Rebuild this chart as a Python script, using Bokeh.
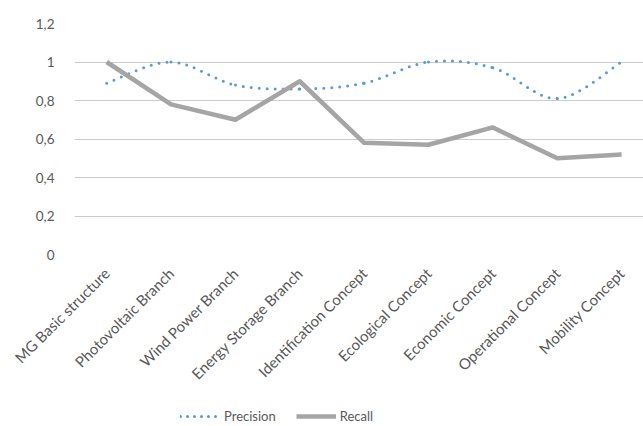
import math
from bokeh.plotting import figure
from bokeh.layouts import column
from bokeh.models import FixedTicker, Range1d, Legend, LegendItem, ColumnDataSource
from bokeh.embed import file_html
from bokeh.resources import INLINE

categories = ["MG Basic structure", "Photovoltaic Branch", "Wind Power Branch",
              "Energy Storage Branch", "Identification Concept", "Ecological Concept",
              "Economic Concept", "Operational Concept", "Mobility Concept"]
precision = [0.89, 1.0, 0.88, 0.86, 0.89, 1.0, 0.97, 0.81, 1.0]
recall = [1.0, 0.78, 0.70, 0.90, 0.58, 0.57, 0.66, 0.50, 0.52]
y_ticks = [0, 0.2, 0.4, 0.6, 0.8, 1.0, 1.2]
y_tick_labels = ["0", "0,2", "0,4", "0,6", "0,8", "1", "1,2"]

FONT = "Lato"
TXT = "#595959"
PREC_COLOR = "#5b9bd5"
REC_COLOR = "#a5a5a5"

p = figure(width=643, height=395, output_backend="svg", toolbar_location=None,
           x_range=Range1d(-0.5, 8.34), y_range=Range1d(0, 1.2),
           min_border_left=74, min_border_right=0, min_border_top=23,
           min_border_bottom=141)
p.outline_line_color = None
p.background_fill_color = "white"
p.border_fill_color = "white"

xs = list(range(len(categories)))

# smoothed precision (Catmull-Rom style bezier segments, as Excel smooth line)
n = len(precision)
def pt(i):
    i = max(0, min(n - 1, i))
    return xs[i], precision[i]
seg = dict(x0=[], y0=[], x1=[], y1=[], cx0=[], cy0=[], cx1=[], cy1=[])
for i in range(n - 1):
    xa, ya = pt(i - 1); x0, y0 = pt(i); x1, y1 = pt(i + 1); xb, yb = pt(i + 2)
    seg["x0"].append(x0); seg["y0"].append(y0)
    seg["x1"].append(x1); seg["y1"].append(y1)
    seg["cx0"].append(x0 + (x1 - xa) / 6); seg["cy0"].append(y0 + (y1 - ya) / 6)
    seg["cx1"].append(x1 - (xb - x0) / 6); seg["cy1"].append(y1 - (yb - y0) / 6)
src = ColumnDataSource(seg)
p.bezier(x0="x0", y0="y0", x1="x1", y1="y1", cx0="cx0", cy0="cy0",
         cx1="cx1", cy1="cy1", source=src, line_color=PREC_COLOR,
         line_width=3, line_cap="round", line_dash="0 8")
p.line(xs, recall, line_color=REC_COLOR, line_width=4.5, line_join="round")

p.xgrid.grid_line_color = None
p.ygrid.grid_line_color = "#cccccc"
p.ygrid.grid_line_width = 1.2
p.yaxis.ticker = FixedTicker(ticks=y_ticks)
p.yaxis.major_label_overrides = {t: l for t, l in zip(y_ticks, y_tick_labels)}
p.xaxis.ticker = FixedTicker(ticks=xs)
p.xaxis.major_label_overrides = {i: c for i, c in enumerate(categories)}
p.xaxis.major_label_orientation = math.pi / 4
for ax in (p.xaxis, p.yaxis):
    ax.axis_line_color = None
    ax.major_tick_line_color = None
    ax.minor_tick_line_color = None
    ax.major_label_text_font = FONT
    ax.major_label_text_color = TXT
p.yaxis.major_label_text_font_size = "13.5px"
p.xaxis.major_label_text_font_size = "15px"
p.yaxis.major_label_standoff = 14
p.xaxis.major_label_standoff = 10

# legend strip below the chart (frames are aligned with the chart above)
lg = figure(width=643, height=31, output_backend="svg", toolbar_location=None,
            x_range=Range1d(0, 1), y_range=Range1d(0, 1),
            min_border_left=0, min_border_right=0, min_border_top=0,
            min_border_bottom=0)
lg.axis.visible = False
lg.grid.visible = False
lg.outline_line_color = None
prec_leg = lg.line(x=xs[:1], y=precision[:1], line_color=PREC_COLOR, line_width=3,
                   line_cap="round", line_dash="0 7")
rec_leg = lg.line(x=xs[:1], y=recall[:1], line_color=REC_COLOR, line_width=4.5)
legend = Legend(items=[LegendItem(label="Precision", renderers=[prec_leg]),
                       LegendItem(label="Recall", renderers=[rec_leg])],
                orientation="horizontal", location=(106, 2),
                label_text_font=FONT, label_text_font_size="13px",
                label_text_color=TXT, glyph_width=40, glyph_height=14,
                spacing=20, label_standoff=4, padding=0, margin=0,
                border_line_color=None, background_fill_alpha=0)
lg.add_layout(legend, "center")

layout = column(p, lg, spacing=0)
open("out.html", "w").write(file_html(layout, INLINE))
